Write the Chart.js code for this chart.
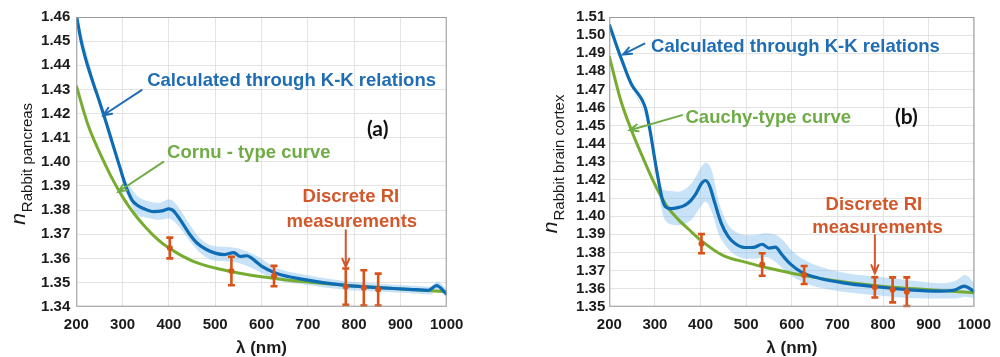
<!DOCTYPE html>
<html>
<head>
<meta charset="utf-8">
<script src="https://cdn.jsdelivr.net/npm/chart.js@4.4.0/dist/chart.umd.min.js"></script>
<style>
  body { margin: 0; background: #fff; width: 1000px; height: 357px; overflow: hidden; position: relative; }
  .panel { position: absolute; top: 0; width: 500px; height: 357px; }
</style>
</head>
<body>
<div class="panel" style="left:0"><canvas id="chartA" width="500" height="357"></canvas></div>
<div class="panel" style="left:500px"><canvas id="chartB" width="500" height="357"></canvas></div>
<script>
// ---- shared axes ----
const xTicks = [200, 300, 400, 500, 600, 700, 800, 900, 1000];
const yTicksA = [1.34, 1.35, 1.36, 1.37, 1.38, 1.39, 1.40, 1.41, 1.42, 1.43, 1.44, 1.45, 1.46];
const yTicksB = [1.35, 1.36, 1.37, 1.38, 1.39, 1.40, 1.41, 1.42, 1.43, 1.44, 1.45, 1.46, 1.47, 1.48, 1.49, 1.50, 1.51];

// discrete RI measurement wavelengths (nm)
const wlMeas = [402, 535, 627, 782, 821, 852];

// ---- (a) rabbit pancreas ----
const wlKKA = [200, 210, 220, 235, 250, 265, 280, 295, 305, 313, 320, 331, 345, 367, 385, 400, 408, 418, 432, 446, 460, 480, 500, 520, 540, 554, 568, 586, 600, 630, 690, 780, 850, 920, 960, 978, 1000];
const nKKA = [1.4610, 1.4505, 1.4428, 1.4335, 1.4250, 1.4160, 1.4065, 1.3972, 1.3910, 1.3870, 1.3843, 1.3821, 1.3807, 1.3794, 1.3797, 1.3805, 1.3800, 1.3778, 1.3738, 1.3697, 1.3665, 1.3638, 1.3622, 1.3616, 1.3624, 1.3608, 1.3611, 1.3590, 1.3568, 1.3540, 1.3513, 1.3488, 1.3479, 1.3472, 1.3468, 1.3487, 1.3452];
const wlCornuA = [200, 225, 250, 275, 300, 325, 350, 375, 400, 450, 500, 550, 600, 650, 700, 800, 900, 1000];
const nCornuA = [1.4315, 1.4155, 1.4040, 1.3940, 1.3855, 1.3785, 1.3728, 1.3680, 1.3643, 1.3590, 1.3560, 1.3540, 1.3524, 1.3512, 1.3502, 1.3486, 1.3473, 1.3462];
const wlBandA = [200, 250, 290, 305, 315, 330, 350, 380, 400, 420, 440, 470, 500, 530, 560, 590, 630, 700, 780, 860, 940, 965, 980, 1000];
const bandHiA = [1.4615, 1.4256, 1.4010, 1.3930, 1.3900, 1.3862, 1.3840, 1.3830, 1.3845, 1.3815, 1.3755, 1.3678, 1.3650, 1.3647, 1.3635, 1.3610, 1.3562, 1.3530, 1.3506, 1.3494, 1.3486, 1.3483, 1.3504, 1.3470];
const bandLoA = [1.4605, 1.4244, 1.3990, 1.3890, 1.3840, 1.3782, 1.3770, 1.3760, 1.3765, 1.3735, 1.3685, 1.3618, 1.3590, 1.3587, 1.3575, 1.3550, 1.3512, 1.3490, 1.3470, 1.3462, 1.3454, 1.3451, 1.3470, 1.3438];
const nMeasA = [1.3643, 1.3548, 1.3527, 1.3483, 1.3478, 1.3471];
const errMeasA = [0.0043, 0.0059, 0.0042, 0.0075, 0.0073, 0.0066];

// ---- (b) rabbit brain cortex ----
const wlKKB = [200, 210, 220, 230, 240, 250, 262, 273, 280, 287, 294, 301, 309, 316, 324, 335, 350, 365, 378, 390, 402, 411, 420, 431, 445, 460, 475, 496, 517, 535, 550, 564, 578, 596, 622, 662, 712, 784, 856, 928, 957, 978, 1000];
const nKKB = [1.5058, 1.4985, 1.4912, 1.4845, 1.4778, 1.4722, 1.4680, 1.4636, 1.4590, 1.4505, 1.4403, 1.4293, 1.4182, 1.4095, 1.4050, 1.4042, 1.4047, 1.4060, 1.4085, 1.4125, 1.4180, 1.4197, 1.4166, 1.4075, 1.3963, 1.3890, 1.3850, 1.3827, 1.3828, 1.3845, 1.3824, 1.3829, 1.3788, 1.3738, 1.3690, 1.3656, 1.3632, 1.3610, 1.3593, 1.3586, 1.3592, 1.3614, 1.3583];
const wlCauchyB = [200, 225, 250, 275, 300, 325, 350, 375, 400, 450, 500, 550, 600, 650, 700, 800, 900, 1000];
const nCauchyB = [1.4883, 1.4640, 1.4465, 1.4315, 1.4175, 1.4060, 1.3985, 1.3925, 1.3868, 1.3782, 1.3745, 1.3712, 1.3685, 1.3662, 1.3642, 1.3612, 1.3594, 1.3577];
const wlBandB = [200, 250, 290, 305, 316, 330, 350, 380, 400, 411, 425, 440, 460, 480, 500, 520, 540, 560, 580, 600, 630, 670, 720, 790, 860, 930, 960, 980, 1000];
const bandHiB = [1.5062, 1.4722, 1.4475, 1.4260, 1.4150, 1.4140, 1.4135, 1.4180, 1.4265, 1.4295, 1.4250, 1.4080, 1.3955, 1.3910, 1.3895, 1.3895, 1.3905, 1.3900, 1.3870, 1.3810, 1.3755, 1.3715, 1.3685, 1.3665, 1.3645, 1.3630, 1.3645, 1.3675, 1.3630];
const bandLoB = [1.5054, 1.4712, 1.4455, 1.4200, 1.4020, 1.3960, 1.3950, 1.3980, 1.4050, 1.4080, 1.4020, 1.3900, 1.3820, 1.3780, 1.3765, 1.3765, 1.3775, 1.3755, 1.3710, 1.3670, 1.3630, 1.3600, 1.3580, 1.3562, 1.3548, 1.3545, 1.3545, 1.3555, 1.3545];
const nMeasB = [1.3848, 1.3733, 1.3675, 1.3607, 1.3593, 1.3583];
const errMeasB = [0.0053, 0.0062, 0.0050, 0.0056, 0.0069, 0.0079];

// ---- styling ----
const FONT = '"Liberation Sans", Arial, Helvetica, sans-serif';
const BLUE = '#0e6cb5';
const GREEN = '#77ac30';
const ORANGE = '#d95319';
const BAND = 'rgba(125, 188, 238, 0.42)';
const BLUE_TXT = '#1f6db5';
const GREEN_TXT = '#6fac46';
const ORANGE_TXT = '#d2572a';

const pts = (xs, ys) => xs.map((x, i) => ({ x: x, y: ys[i] }));

function drawArrow(ctx, x0, y0, x1, y1, color) {
  const ang = Math.atan2(y1 - y0, x1 - x0);
  const head = 9;
  ctx.save();
  ctx.strokeStyle = color;
  ctx.lineWidth = 2;
  ctx.lineCap = 'round';
  ctx.beginPath();
  ctx.moveTo(x0, y0);
  ctx.lineTo(x1, y1);
  ctx.moveTo(x1 - head * Math.cos(ang - 0.4), y1 - head * Math.sin(ang - 0.4));
  ctx.lineTo(x1, y1);
  ctx.lineTo(x1 - head * Math.cos(ang + 0.4), y1 - head * Math.sin(ang + 0.4));
  ctx.stroke();
  ctx.restore();
}

// plot frame, axis titles, call-outs
const decorPlugin = {
  id: 'decor',
  afterDraw(chart) {
    const cfg = chart.options.plugins.decor;
    const { ctx, chartArea: a, scales: { x, y } } = chart;
    ctx.save();
    ctx.strokeStyle = '#9a9a9a';
    ctx.lineWidth = 1;
    ctx.strokeRect(a.left + 0.5, a.top + 0.5, a.right - a.left - 1, a.bottom - a.top - 1);

    ctx.fillStyle = '#1a1a1a';
    ctx.textAlign = 'center';
    ctx.textBaseline = 'alphabetic';
    ctx.font = 'bold 17px ' + FONT;
    ctx.fillText('\u03bb (nm)', (a.left + a.right) / 2, 353);

    // n with subscript, rotated
    ctx.save();
    ctx.translate(cfg.yTitleX, (a.top + a.bottom) / 2 + 2);
    ctx.rotate(-Math.PI / 2);
    const nFont = 'italic 21px ' + FONT;
    const sFont = '15px ' + FONT;
    ctx.font = nFont;
    const nW = ctx.measureText('n').width;
    ctx.font = sFont;
    const sW = ctx.measureText(cfg.ySub).width;
    const start = -(nW + 1 + sW) / 2;
    ctx.textAlign = 'left';
    ctx.font = nFont;
    ctx.fillText('n', start, 0);
    ctx.font = sFont;
    ctx.fillText(cfg.ySub, start + nW + 1, 7);
    ctx.restore();

    cfg.arrows.forEach(ar => {
      drawArrow(ctx, x.getPixelForValue(ar.from[0]), y.getPixelForValue(ar.from[1]),
        x.getPixelForValue(ar.to[0]), y.getPixelForValue(ar.to[1]), ar.color);
    });
    cfg.notes.forEach(n => {
      ctx.font = n.font || ('bold 18.5px ' + FONT);
      ctx.fillStyle = n.color;
      ctx.textAlign = n.align || 'left';
      ctx.textBaseline = n.baseline || 'alphabetic';
      ctx.fillText(n.text, x.getPixelForValue(n.x), y.getPixelForValue(n.y));
    });
    ctx.restore();
  }
};

// error bars are drawn just before the measurement markers
const errorBarPlugin = {
  id: 'errorBars',
  beforeDatasetDraw(chart, args) {
    const ds = chart.data.datasets[args.index];
    if (!ds.errors) return;
    const { ctx, scales: { x, y } } = chart;
    ctx.save();
    ctx.strokeStyle = ORANGE;
    ctx.lineWidth = 2.6;
    ds.data.forEach((p, i) => {
      const px = x.getPixelForValue(p.x);
      const top = y.getPixelForValue(p.y + ds.errors[i]);
      const bot = y.getPixelForValue(p.y - ds.errors[i]);
      ctx.beginPath();
      ctx.moveTo(px, top); ctx.lineTo(px, bot);
      ctx.moveTo(px - 3.5, top); ctx.lineTo(px + 3.5, top);
      ctx.moveTo(px - 3.5, bot); ctx.lineTo(px + 3.5, bot);
      ctx.stroke();
    });
    ctx.restore();
  }
};

function makePanel(id, cfg) {
  const tickFont = { family: FONT, size: 15, weight: 'bold' };
  return new Chart(document.getElementById(id), {
    type: 'line',
    data: {
      datasets: [
        { label: 'band upper', data: pts(cfg.wlBand, cfg.bandHi), borderWidth: 0, pointRadius: 0,
          fill: '+1', backgroundColor: BAND, cubicInterpolationMode: 'monotone', order: 5 },
        { label: 'band lower', data: pts(cfg.wlBand, cfg.bandLo), borderWidth: 0, pointRadius: 0,
          fill: false, cubicInterpolationMode: 'monotone', order: 6 },
        { label: 'fit', data: pts(cfg.wlFit, cfg.nFit), borderColor: GREEN, borderWidth: 3,
          pointRadius: 0, cubicInterpolationMode: 'monotone', order: 3 },
        { label: 'K-K', data: pts(cfg.wlKK, cfg.nKK), borderColor: BLUE, borderWidth: 3.2,
          pointRadius: 0, cubicInterpolationMode: 'monotone', order: 2, clip: 0 },
        { label: 'measured', data: pts(wlMeas, cfg.nMeas), errors: cfg.errMeas, showLine: false,
          pointRadius: 3, pointBackgroundColor: ORANGE, pointBorderWidth: 0, order: 1 }
      ]
    },
    options: {
      responsive: false,
      animation: false,
      devicePixelRatio: 1,
      layout: { padding: { top: 17, right: 500 - cfg.plotRight, left: 0, bottom: 0 } },
      plugins: {
        legend: { display: false },
        tooltip: { enabled: false },
        decor: { yTitleX: cfg.yTitleX, ySub: cfg.ySub, notes: cfg.notes, arrows: cfg.arrows }
      },
      scales: {
        x: {
          type: 'linear', min: 200, max: 1000,
          afterBuildTicks: s => { s.ticks = xTicks.map(v => ({ value: v })); },
          afterFit: s => { s.height = 357 - 306.7; },
          ticks: { font: tickFont, color: '#1a1a1a', padding: 9, maxRotation: 0, autoSkip: false,
                   callback: v => String(v) },
          grid: { color: '#e3e3e3', drawTicks: false },
          border: { display: false }
        },
        y: {
          type: 'linear', min: cfg.yTicks[0], max: cfg.yTicks[cfg.yTicks.length - 1],
          afterBuildTicks: s => { s.ticks = cfg.yTicks.map(v => ({ value: v })); },
          afterFit: s => { s.width = cfg.plotLeft; },
          ticks: { font: tickFont, color: '#1a1a1a', padding: cfg.yTickPad, autoSkip: false,
                   callback: v => v.toFixed(2) },
          grid: { color: '#e3e3e3', drawTicks: false },
          border: { display: false }
        }
      }
    },
    plugins: [errorBarPlugin, decorPlugin]
  });
}

makePanel('chartA', {
  wlKK: wlKKA, nKK: nKKA, wlFit: wlCornuA, nFit: nCornuA,
  wlBand: wlBandA, bandHi: bandHiA, bandLo: bandLoA,
  nMeas: nMeasA, errMeas: errMeasA, yTicks: yTicksA,
  plotLeft: 76.3, plotRight: 446.7, yTickPad: 6, yTitleX: 25,
  ySub: 'Rabbit pancreas',
  notes: [
    { text: 'Calculated through K-K relations', x: 353, y: 1.4313, color: BLUE_TXT },
    { text: '(a)', x: 851, y: 1.4137, color: '#111', align: 'center', baseline: 'middle', font: 'bold 21px Lato, ' + FONT },
    { text: 'Cornu - type curve', x: 396, y: 1.4015, color: GREEN_TXT },
    { text: 'Discrete RI', x: 793, y: 1.3833, color: ORANGE_TXT, align: 'center' },
    { text: 'measurements', x: 795, y: 1.3731, color: ORANGE_TXT, align: 'center' }
  ],
  arrows: [
    { from: [341, 1.4297], to: [258.3, 1.4193], color: BLUE_TXT },
    { from: [388, 1.4000], to: [290.7, 1.3876], color: GREEN_TXT },
    { from: [782, 1.3717], to: [782, 1.3565], color: ORANGE_TXT }
  ]
});

makePanel('chartB', {
  wlKK: wlKKB, nKK: nKKB, wlFit: wlCauchyB, nFit: nCauchyB,
  wlBand: wlBandB, bandHi: bandHiB, bandLo: bandLoB,
  nMeas: nMeasB, errMeas: errMeasB, yTicks: yTicksB,
  plotLeft: 109.3, plotRight: 480, yTickPad: 4, yTitleX: 57,
  ySub: 'Rabbit brain cortex',
  notes: [
    { text: 'Calculated through K-K relations', x: 291.5, y: 1.4908, color: BLUE_TXT },
    { text: '(b)', x: 851, y: 1.4547, color: '#111', align: 'center', baseline: 'middle', font: 'bold 21px Lato, ' + FONT },
    { text: 'Cauchy-type curve', x: 367, y: 1.4514, color: GREEN_TXT },
    { text: 'Discrete RI', x: 780, y: 1.4034, color: ORANGE_TXT, align: 'center' },
    { text: 'measurements', x: 788, y: 1.3905, color: ORANGE_TXT, align: 'center' }
  ],
  arrows: [
    { from: [277, 1.4953], to: [230.2, 1.4893], color: BLUE_TXT },
    { from: [359.7, 1.4558], to: [244.7, 1.4475], color: GREEN_TXT },
    { from: [782, 1.3896], to: [782, 1.3684], color: ORANGE_TXT }
  ]
});
</script>
</body>
</html>
